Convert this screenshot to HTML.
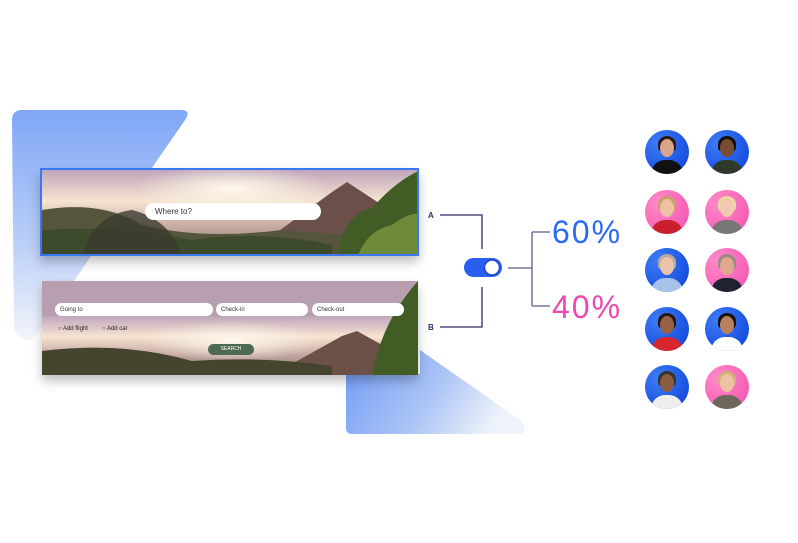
<!DOCTYPE html>
<html><head><meta charset="utf-8"><style>
body{margin:0;width:798px;height:543px;background:#fff;position:relative;overflow:hidden;font-family:"Liberation Sans",sans-serif}
.abs{position:absolute}
.inp{position:absolute;background:#fff;border-radius:10px;font-size:6px;color:#333;padding-left:5px;box-sizing:border-box;display:flex;align-items:center}
.av{position:absolute;width:44px;height:44px;border-radius:50%;overflow:hidden}
.b{background:radial-gradient(circle at 30% 30%,#3d7cf5,#0b3fd9)}
.p{background:radial-gradient(circle at 30% 30%,#ff8ac8,#f04fae)}
.face{position:absolute;left:15px;top:9px;width:14px;height:18px;border-radius:50%}
.body{position:absolute;left:6px;top:30px;width:32px;height:20px;border-radius:14px 14px 0 0}
.hair{position:absolute;left:13px;top:6px;width:18px;height:16px;border-radius:50% 50% 30% 30%}
</style></head><body>
<svg class="abs" style="left:0;top:0" width="798" height="543">
<defs>
<linearGradient id="g1" x1="0" y1="0" x2="0" y2="1"><stop offset="0" stop-color="#7fa6f7"/><stop offset="0.55" stop-color="#b7cdf7"/><stop offset="1" stop-color="#f3f5fb"/></linearGradient>
<linearGradient id="g2" x1="0" y1="0" x2="1" y2="0.3"><stop offset="0" stop-color="#6f9bf6"/><stop offset="0.6" stop-color="#aec6f6"/><stop offset="1" stop-color="#eef2fa"/></linearGradient>
<linearGradient id="sky" x1="0" y1="0" x2="0" y2="1"><stop offset="0" stop-color="#c0a6bb"/><stop offset="0.35" stop-color="#f6e4d2"/><stop offset="0.6" stop-color="#cfb2aa"/><stop offset="1" stop-color="#7c6f66"/></linearGradient>
<radialGradient id="sun" cx="0.5" cy="0.4" r="0.4"><stop offset="0" stop-color="#fff8ea"/><stop offset="1" stop-color="#fff8ea" stop-opacity="0"/></radialGradient>
</defs>
<path d="M22 110 H180 Q192 110 185 120 L40 330 Q26 350 14 330 L12 120 Q12 110 22 110Z" fill="url(#g1)"/>
<path d="M346 374 H420 L420 350 L520 420 Q532 434 515 434 H352 Q346 434 346 428Z" fill="url(#g2)"/>
<g stroke="#2a2f6e" stroke-width="1.3" fill="none">
<path d="M440 215 H482 V249"/><path d="M482 287 V327 H440"/>
<path d="M508 268 H532 M532 232 V306 M532 232 H550 M532 306 H550" stroke="#5a5f8a"/>
</g>
<text x="428" y="218" font-size="8" font-weight="bold" fill="#2a2f6e">A</text>
<text x="428" y="330" font-size="8" font-weight="bold" fill="#2a2f6e">B</text>
<rect x="464" y="258" width="38" height="19" rx="9.5" fill="#2a5ef0"/>
<circle cx="492" cy="267.5" r="7.5" fill="#fff" stroke="#1f47c8" stroke-width="1.5"/>
<text x="552" y="243" font-size="32" letter-spacing="2" fill="#2b6af5">60%</text>
<text x="552" y="318" font-size="32" letter-spacing="2" fill="#f046b0">40%</text>
</svg>

<div class="abs" style="left:40px;top:168px;width:379px;height:88px;box-shadow:0 6px 10px rgba(0,0,0,.25);border:2px solid #3a78f2;box-sizing:border-box;overflow:hidden">
<svg width="379" height="88" style="display:block">
<rect width="379" height="88" fill="url(#sky)"/>
<ellipse cx="190" cy="25" rx="120" ry="30" fill="url(#sun)"/>
<path d="M200 88 L290 22 L305 12 L340 35 L379 60 V88Z" fill="#6a5048"/>
<path d="M0 40 Q60 30 100 55 Q160 70 240 60 Q300 65 379 70 V88 H0Z" fill="#55553c"/>
<path d="M0 60 Q80 55 150 70 Q220 60 290 75 V88 H0Z" fill="#3e4a2c"/>
<path d="M295 88 Q300 45 330 38 Q355 10 379 0 V88Z" fill="#425c26"/>
<path d="M315 88 Q325 60 350 55 Q370 40 379 45 V88Z" fill="#6f8a3a"/>
<path d="M40 88 Q50 45 90 40 Q130 50 140 88Z" fill="#3b3b2e" opacity=".8"/>
</svg>
<div class="inp" style="left:103px;top:33px;width:176px;height:17px;font-size:8px;padding-left:10px">Where to?</div>
</div>

<div class="abs" style="left:42px;top:281px;width:376px;height:94px;box-shadow:0 6px 10px rgba(0,0,0,.25);overflow:hidden">
<svg width="376" height="94" style="display:block">
<rect width="376" height="94" fill="#b79fb0"/>
<rect y="35" width="376" height="59" fill="url(#sky)"/>
<ellipse cx="190" cy="65" rx="110" ry="25" fill="url(#sun)"/>
<path d="M230 94 L300 55 L315 50 L360 75 L376 80 V94Z" fill="#6d5048"/>
<path d="M0 70 Q80 60 150 80 Q220 75 290 85 V94 H0Z" fill="#45452e"/>
<path d="M330 94 Q340 40 376 0 V94Z" fill="#425c26"/>
</svg>
<div class="inp" style="left:13px;top:22px;width:158px;height:13px">Going to</div>
<div class="inp" style="left:174px;top:22px;width:92px;height:13px">Check-in</div>
<div class="inp" style="left:270px;top:22px;width:92px;height:13px">Check-out</div>
<div class="abs" style="left:16px;top:45px;font-size:6px;color:#222">○ Add flight</div>
<div class="abs" style="left:60px;top:45px;font-size:6px;color:#222">○ Add car</div>
<div class="abs" style="left:166px;top:63px;width:46px;height:11px;border-radius:6px;background:#4d6b52;color:#fff;font-size:5px;text-align:center;line-height:11px">SEARCH</div>
</div>

<div class="av b" style="left:645px;top:130px"><div class="hair" style="background:#2a1a14"></div><div class="face" style="background:#d9a489"></div><div class="body" style="background:#111"></div></div>
<div class="av b" style="left:705px;top:130px"><div class="hair" style="background:#111"></div><div class="face" style="background:#7a4c32"></div><div class="body" style="background:#2f3a2c"></div></div>
<div class="av p" style="left:645px;top:190px"><div class="hair" style="background:#c9a06a"></div><div class="face" style="background:#edc0a2"></div><div class="body" style="background:#c8202c"></div></div>
<div class="av p" style="left:705px;top:190px"><div class="hair" style="background:#ecd6a0"></div><div class="face" style="background:#f1c9b0"></div><div class="body" style="background:#777"></div></div>
<div class="av b" style="left:645px;top:248px"><div class="hair" style="background:#b8ab9a"></div><div class="face" style="background:#ecc3aa"></div><div class="body" style="background:#a7c2ea"></div></div>
<div class="av p" style="left:705px;top:248px"><div class="hair" style="background:#9a8a80"></div><div class="face" style="background:#e0a98e"></div><div class="body" style="background:#1f2230"></div></div>
<div class="av b" style="left:645px;top:307px"><div class="hair" style="background:#2a160e"></div><div class="face" style="background:#9a6245"></div><div class="body" style="background:#d6252d"></div></div>
<div class="av b" style="left:705px;top:307px"><div class="hair" style="background:#1a1210"></div><div class="face" style="background:#b9805f"></div><div class="body" style="background:#fff"></div></div>
<div class="av b" style="left:645px;top:365px"><div class="hair" style="background:#333"></div><div class="face" style="background:#8b5c42"></div><div class="body" style="background:#eee"></div></div>
<div class="av p" style="left:705px;top:365px"><div class="hair" style="background:#d2b07a"></div><div class="face" style="background:#eec3a5"></div><div class="body" style="background:#6d675e"></div></div>
</body></html>
